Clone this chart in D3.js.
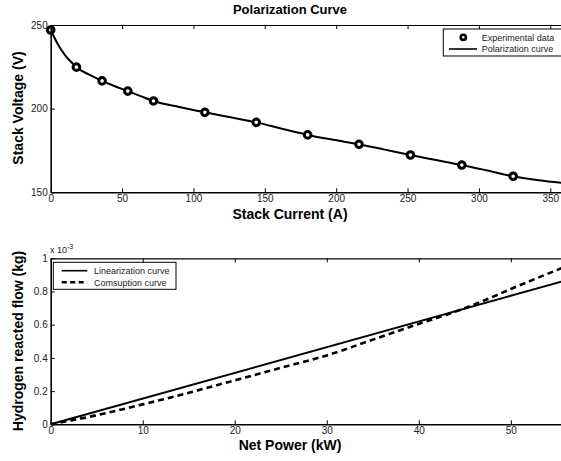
<!DOCTYPE html>
<html lang="en">
<head>
    <meta charset="UTF-8">
    <title>Polarization Curve</title>
    <script src="https://d3js.org/d3.v7.min.js"></script>
    <style type="text/css">
        body { margin: 0; background: #ffffff; }
        svg { display: block; font-family: "Liberation Sans", Arial, sans-serif; }
        .tick text { fill: #222; font-size: 10px; }
    </style>
</head>
<body>
    <div id="chart"></div>
    <script type="text/javascript">
        // Experimental points (stack current A, stack voltage V)
        const expCurrent = [0, 18, 36, 54, 72, 108, 144, 180, 216, 252, 288, 324];
        const expVoltage = [247, 224.8, 216.6, 210.5, 204.6, 197.8, 191.8, 184.3, 178.7, 172.3, 166.3, 159.6];

        // Fitted polarization curve
        const polCurrent = [0, 5, 10, 15, 18, 27, 36, 45, 54, 63, 72, 90, 108, 126, 144, 162, 180, 198, 216, 234, 252, 270, 288, 306, 324, 342, 358];
        const polVoltage = [247, 238.5, 232, 227.3, 224.8, 220.3, 216.6, 213.4, 210.5, 207.5, 204.6, 201, 197.8, 194.8, 191.8, 188, 184.3, 181.4, 178.7, 175.5, 172.3, 169.3, 166.3, 163, 159.6, 157.2, 155.6];

        // Hydrogen consumption vs net power (kW, x1e-3 kg)
        const powerLin = [0, 55.5];
        const flowLin = [0, 0.86];
        const powerCons = [0, 5, 10, 15, 20, 25, 30, 35, 40, 43, 45, 47.5, 50, 55.5];
        const flowCons = [0, 0.055, 0.12, 0.19, 0.265, 0.34, 0.415, 0.51, 0.605, 0.66, 0.7, 0.755, 0.815, 0.94];

        const voltTicks = [150, 200, 250];
        const currentTicks = [0, 50, 100, 150, 200, 250, 300, 350];
        const flowTicks = [0, 0.2, 0.4, 0.6, 0.8, 1];
        const powerTicks = [0, 10, 20, 30, 40, 50];

        const W = 561, H = 461;
        const svg = d3.select('#chart').append('svg')
            .attr('width', W).attr('height', H);

        const left = 50.7, right = 561;

        // frame with inward ticks on all visible sides
        function drawFrame(x, y, xt, yt, xFmt, yFmt) {
            const [y0, y1] = y.range();
            const g = svg.append('g');
            g.append('g')
                .attr('transform', `translate(0,${y0})`)
                .call(d3.axisBottom(x).tickValues(xt).tickSizeInner(-4).tickSizeOuter(0).tickPadding(3).tickFormat(xFmt))
                .call(a => a.select('.domain').attr('stroke-width', 1.6));
            g.append('g')
                .attr('transform', `translate(0,${y1})`)
                .call(d3.axisTop(x).tickValues(xt).tickSizeInner(-4).tickSizeOuter(0).tickFormat(''))
                .call(a => a.select('.domain').attr('stroke-width', 1.2));
            g.append('g')
                .attr('transform', `translate(${left},0)`)
                .call(d3.axisLeft(y).tickValues(yt).tickSizeInner(-4).tickSizeOuter(0).tickPadding(3).tickFormat(yFmt))
                .call(a => a.select('.domain').attr('stroke-width', 1.6));
            g.selectAll('.tick line').attr('stroke-width', 1);
            return g;
        }

        // ---------- top plot ----------
        const x1 = d3.scaleLinear().domain([0, 357.5]).range([left, right]);
        const y1 = d3.scaleLinear().domain([150, 250]).range([192.3, 25]);

        svg.append('path')
            .datum(polCurrent.map((c, i) => [c, polVoltage[i]]))
            .attr('fill', 'none').attr('stroke', '#000').attr('stroke-width', 2)
            .attr('d', d3.line().x(d => x1(d[0])).y(d => y1(d[1])).curve(d3.curveMonotoneX));

        svg.append('g').selectAll('circle')
            .data(expCurrent.map((c, i) => [c, expVoltage[i]]))
            .enter().append('circle')
            .attr('cx', d => x1(d[0])).attr('cy', d => y1(d[1]))
            .attr('r', 3.3).attr('fill', '#fff').attr('stroke', '#000').attr('stroke-width', 3);

        drawFrame(x1, y1, currentTicks, voltTicks, d3.format('d'), d3.format('d'));

        svg.append('text').attr('x', 290).attr('y', 14).attr('text-anchor', 'middle')
            .attr('font-weight', 'bold').attr('font-size', 13).text('Polarization Curve');
        svg.append('text').attr('x', 290).attr('y', 219).attr('text-anchor', 'middle')
            .attr('font-weight', 'bold').attr('font-size', 14).text('Stack Current (A)');
        svg.append('text').attr('transform', 'translate(23,108) rotate(-90)').attr('text-anchor', 'middle')
            .attr('font-weight', 'bold').attr('font-size', 14).text('Stack Voltage (V)');

        // legend top
        const lg1 = svg.append('g');
        lg1.append('rect').attr('x', 443.3).attr('y', 29).attr('width', 130).attr('height', 27)
            .attr('fill', '#fff').attr('stroke', '#000').attr('stroke-width', 1);
        lg1.append('circle').attr('cx', 463.3).attr('cy', 37.3).attr('r', 2.6)
            .attr('fill', '#fff').attr('stroke', '#000').attr('stroke-width', 2.6);
        lg1.append('line').attr('x1', 449).attr('x2', 477).attr('y1', 49).attr('y2', 49)
            .attr('stroke', '#000').attr('stroke-width', 1.6);
        lg1.append('text').attr('x', 481.7).attr('y', 40.5).attr('font-size', 9).attr('fill', '#222').text('Experimental data');
        lg1.append('text').attr('x', 481.7).attr('y', 52.2).attr('font-size', 9).attr('fill', '#222').text('Polarization curve');

        // ---------- bottom plot ----------
        const x2 = d3.scaleLinear().domain([0, 55.45]).range([left, right]);
        const y2 = d3.scaleLinear().domain([0, 1]).range([424.3, 258.3]);

        const line2 = d3.line().x(d => x2(d[0])).y(d => y2(d[1]));

        svg.append('path')
            .datum(powerLin.map((p, i) => [p, flowLin[i]]))
            .attr('fill', 'none').attr('stroke', '#000').attr('stroke-width', 2)
            .attr('d', line2);
        svg.append('path')
            .datum(powerCons.map((p, i) => [p, flowCons[i]]))
            .attr('fill', 'none').attr('stroke', '#000').attr('stroke-width', 2.6)
            .attr('stroke-dasharray', '6,4')
            .attr('d', line2.curve(d3.curveMonotoneX));

        drawFrame(x2, y2, powerTicks, flowTicks, d3.format('d'), d => d === 0 || d === 1 ? d3.format('d')(d) : d3.format('.1f')(d));

        svg.append('text').attr('x', 50).attr('y', 253).attr('font-size', 9).attr('fill', '#222')
            .text('x 10').append('tspan').attr('dy', -4).attr('font-size', 7).text('-3');

        svg.append('text').attr('x', 290).attr('y', 450).attr('text-anchor', 'middle')
            .attr('font-weight', 'bold').attr('font-size', 14).text('Net Power (kW)');
        svg.append('text').attr('transform', 'translate(23,341) rotate(-90)').attr('text-anchor', 'middle')
            .attr('font-weight', 'bold').attr('font-size', 14).text('Hydrogen reacted flow (kg)');

        // legend bottom
        const lg2 = svg.append('g');
        lg2.append('rect').attr('x', 53.3).attr('y', 262.3).attr('width', 122.7).attr('height', 27)
            .attr('fill', '#fff').attr('stroke', '#000').attr('stroke-width', 1);
        lg2.append('line').attr('x1', 61.7).attr('x2', 87.3).attr('y1', 270.7).attr('y2', 270.7)
            .attr('stroke', '#000').attr('stroke-width', 1.6);
        lg2.append('line').attr('x1', 61.7).attr('x2', 87.3).attr('y1', 282.3).attr('y2', 282.3)
            .attr('stroke', '#000').attr('stroke-width', 2.4).attr('stroke-dasharray', '5,3.5');
        lg2.append('text').attr('x', 94).attr('y', 273.9).attr('font-size', 9).attr('fill', '#222').text('Linearization curve');
        lg2.append('text').attr('x', 94).attr('y', 285.5).attr('font-size', 9).attr('fill', '#222').text('Comsuption curve');
    </script>
</body>
</html>
